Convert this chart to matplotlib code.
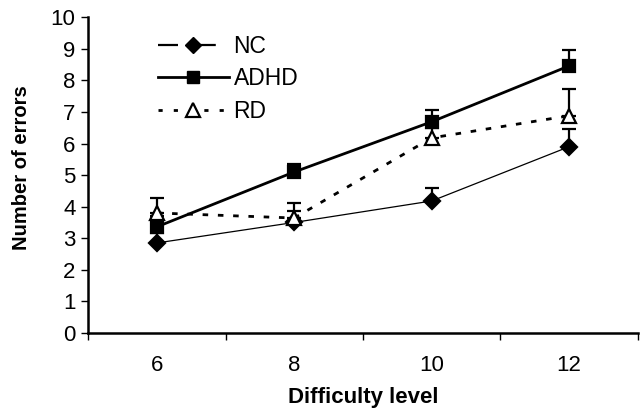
import matplotlib
matplotlib.use("Agg")
import matplotlib.pyplot as plt
from matplotlib.lines import Line2D
import numpy as np

plt.rcParams['font.family'] = ['Liberation Sans', 'DejaVu Sans']

levels = ["6", "8", "10", "12"]
nc = [2.85, 3.5, 4.18, 5.9]
nc_err = [0.3, 0.35, 0.42, 0.57]
adhd = [3.36, 5.1, 6.69, 8.46]
adhd_err = [0.35, 0.26, 0.38, 0.51]
rd = [3.8, 3.64, 6.18, 6.88]
rd_err = [0.48, 0.48, 0.3, 0.85]

FS = 16
LFS = 16.5

fig = plt.figure(figsize=(6.43, 4.12), dpi=100)
ax = fig.add_axes([0.137, 0.192, 0.855, 0.766])
x = np.arange(len(levels))

def draw(vals, errs, marker, mfc, ls, lw, ms, z, dashes=None):
    line, = ax.plot(x, vals, color='black', linestyle=ls, linewidth=lw,
                    marker=marker, markersize=ms, markerfacecolor=mfc,
                    markeredgecolor='black', markeredgewidth=1.6, zorder=z)
    if dashes:
        line.set_dashes(dashes)
    ax.errorbar(x, vals, yerr=[np.zeros(len(vals)), errs], fmt='none',
                ecolor='black', elinewidth=1.6, capsize=5, capthick=1.6,
                zorder=z - 0.5)

draw(nc, nc_err, 'D', 'black', '-', 0.9, 8.5, 3)
draw(adhd, adhd_err, 's', 'black', '-', 2.0, 9, 4)
draw(rd, rd_err, '^', 'white', ':', 2.0, 10, 5, dashes=(2.0, 3.5))

ax.set_xlim(-0.5, 3.5)
ax.set_ylim(0, 10)
ax.set_yticks(range(0, 11))
ax.set_xticks(x)
ax.set_xticklabels(levels)
ax.set_xticks([-0.5, 0.5, 1.5, 2.5, 3.5], minor=True)
ax.tick_params(axis='x', which='major', length=0, labelsize=FS, pad=16)
ax.tick_params(axis='x', which='minor', length=5, width=1.0, direction='out')
ax.tick_params(axis='y', length=5, width=1.0, direction='out', labelsize=FS, pad=4)
for s in ['top', 'right']:
    ax.spines[s].set_visible(False)
for s in ['left', 'bottom']:
    ax.spines[s].set_linewidth(1.8)

ax.set_xlabel("Difficulty level", fontsize=FS, fontweight='bold', labelpad=8)
ax.set_ylabel("Number of errors", fontsize=14.5, fontweight='bold')
ax.yaxis.set_label_coords(-0.103, 0.525)

handles = [
    Line2D([], [], color='black', linestyle=(0, (9.0, 8.0)), linewidth=1.6,
           marker='D', markersize=8.5, markerfacecolor='black', markeredgecolor='black'),
    Line2D([], [], color='black', linestyle='-', linewidth=2.0,
           marker='s', markersize=9, markerfacecolor='black', markeredgecolor='black'),
    Line2D([], [], color='black', linestyle=(0, (1.5, 4.0)), linewidth=2.0,
           marker='^', markersize=10, markerfacecolor='white', markeredgecolor='black',
           markeredgewidth=1.6),
]
ax.legend(handles, ["NC", "ADHD", "RD"], loc='upper left',
          bbox_to_anchor=(0.127, 0.945), frameon=False, fontsize=LFS,
          borderaxespad=0, borderpad=0,
          handlelength=3.1, handletextpad=0.2, labelspacing=0.42)

fig.savefig("out.png", dpi=100)
